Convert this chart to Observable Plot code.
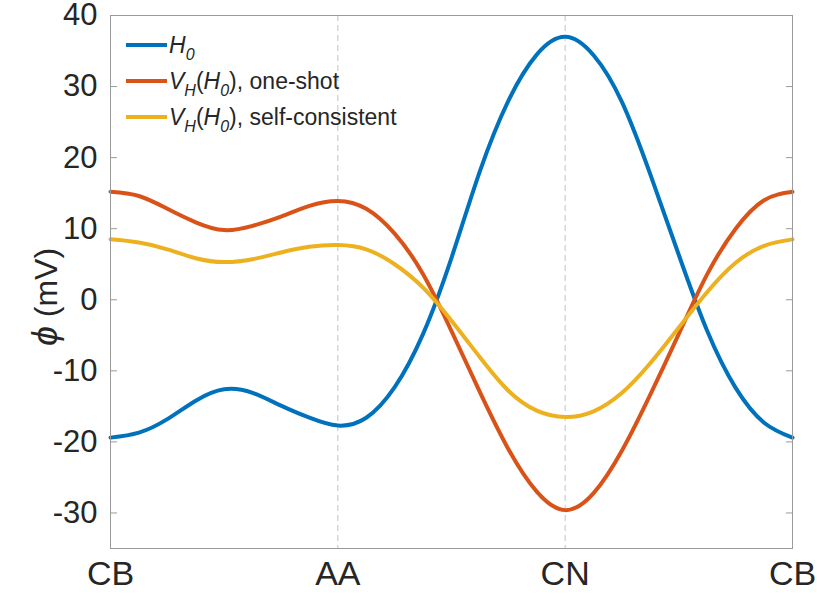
<!DOCTYPE html>
<html>
<head>
<meta charset="utf-8">
<script src="https://cdn.jsdelivr.net/npm/d3@7"></script>
<script src="https://cdn.jsdelivr.net/npm/@observablehq/plot@0.6"></script>
<style>
  body { margin: 0; background: #fff; }
  #wrap { position: relative; width: 817px; height: 603px; font-family: "Liberation Sans", Arial, sans-serif; color: #262626; }
  #legend { position: absolute; left: 126px; top: 27px; font-size: 23px; line-height: 36px; }
  #legend .row { display: flex; align-items: center; height: 36px; white-space: nowrap; }
  #legend .sw { width: 41px; height: 4px; margin-right: 2px; }
  #legend i { font-style: italic; }
  #legend sub { font-size: 16px; vertical-align: -7px; line-height: 0; font-style: italic; }
  #ylab { position: absolute; left: 45px; top: 297px; transform: translate(-50%, -50%) rotate(-90deg); font-size: 32px; white-space: nowrap; }
  #ylab i { font-size: 36px; }
</style>
</head>
<body>
<div id="wrap">
  <div id="chart"></div>
  <div id="ylab"><i>ϕ</i> (mV)</div>
  <div id="legend"></div>
</div>
<script>
// sample positions along the path CB -> AA -> CN -> CB
const pathPos = [0,0.125,0.25,0.375,0.5,0.625,0.75,0.875,1,1.125,1.25,1.375,1.5,1.625,1.75,1.875,2,2.125,2.25,2.375,2.5,2.625,2.75,2.875,3];
const h0 = [-19.4,-18.7,-16.8,-14.2,-12.6,-13.1,-14.9,-16.6,-17.7,-16.6,-12.3,-4.8,5.9,18.1,28.0,34.5,37.0,34.4,27.8,17.6,6.3,-4.4,-12.4,-17.3,-19.4];
const oneShot = [15.2,14.6,12.8,10.9,9.8,10.4,11.7,13.2,13.9,12.8,9.3,3.6,-4.4,-13.0,-21.0,-27.0,-29.6,-27.2,-21.2,-13.3,-4.8,3.6,10.0,14.0,15.2];
const selfCons = [8.5,8.05,7.1,5.85,5.3,5.7,6.65,7.45,7.7,7.1,5.0,1.7,-2.95,-8.1,-12.8,-15.6,-16.5,-15.7,-13.1,-8.9,-3.9,1.1,5.2,7.6,8.5];

const xTickPos = [0, 1, 2, 3];
const xTickLabels = ["CB", "AA", "CN", "CB"];
const yTicks = [-30, -20, -10, 0, 10, 20, 30, 40];

const seriesNames = ["H0", "VH(H0), one-shot", "VH(H0), self-consistent"];
const seriesColors = ["#0072BD", "#D95319", "#EDB120"];
const seriesValues = [h0, oneShot, selfCons];

const rows = [];
seriesValues.forEach((vals, s) => vals.forEach((v, i) => rows.push({x: pathPos[i], y: v, s: seriesNames[s]})));

const textCol = "#262626";
const frameCol = "#9a9a9a";

const chart = Plot.plot({
  width: 817,
  height: 603,
  marginLeft: 110,
  marginRight: 25,
  marginTop: 15,
  marginBottom: 55,
  style: {fontFamily: "'Liberation Sans', Arial, sans-serif", color: textCol, background: "#fff", overflow: "visible"},
  x: {domain: [0, 3]},
  y: {domain: [-35, 40]},
  color: {domain: seriesNames, range: seriesColors},
  marks: [
    Plot.ruleX(xTickPos.filter(d => d > 0 && d < 3), {stroke: "#c2c2c2", strokeWidth: 1, strokeDasharray: "6,4"}),
    Plot.line(rows, {x: "x", y: "y", z: "s", stroke: "s", strokeWidth: 4, curve: "natural"}),
    Plot.frame({stroke: frameCol, strokeWidth: 1}),
    Plot.axisY({anchor: "left", ticks: yTicks, tickSize: 7, dx: 7, stroke: frameCol, tickFormat: () => "", label: null}),
    Plot.axisY({anchor: "right", ticks: yTicks, tickSize: 7, dx: -7, stroke: frameCol, tickFormat: () => "", label: null}),
    Plot.axisY({anchor: "left", ticks: yTicks, tickSize: 0, tickPadding: 13, fontSize: 31, fill: textCol, label: null,
      tickFormat: (d) => String(d)}),
    Plot.axisX({anchor: "bottom", ticks: xTickPos, tickSize: 0, tickPadding: 12, fontSize: 34, fill: textCol, label: null,
      tickFormat: (d) => xTickLabels[xTickPos.indexOf(d)]})
  ]
});
document.getElementById("chart").appendChild(chart);

const legendLabels = [
  '<i>H</i><sub>0</sub>',
  '<i>V</i><sub>H</sub>(<i>H</i><sub>0</sub>), one-shot',
  '<i>V</i><sub>H</sub>(<i>H</i><sub>0</sub>), self-consistent'
];
const lg = document.getElementById("legend");
seriesNames.forEach((n, i) => {
  const r = document.createElement("div");
  r.className = "row";
  r.innerHTML = `<div class="sw" style="background:${seriesColors[i]}"></div><span>${legendLabels[i]}</span>`;
  lg.appendChild(r);
});
</script>
</body>
</html>
